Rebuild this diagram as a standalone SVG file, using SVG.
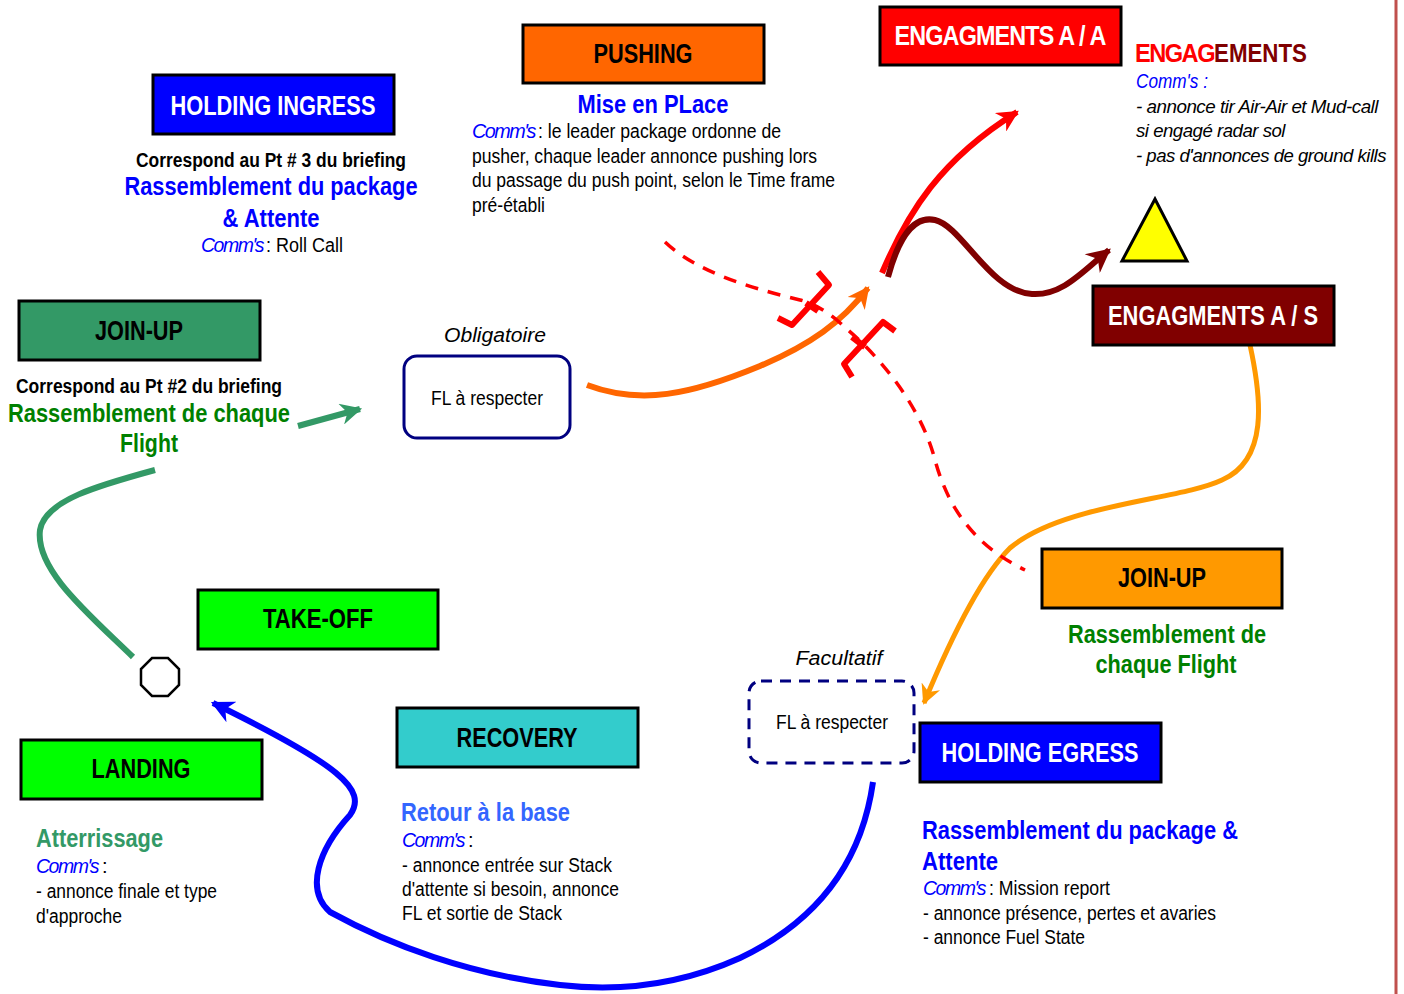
<svg xmlns="http://www.w3.org/2000/svg" width="1404" height="994" viewBox="0 0 1404 994">
<style>
text{font-family:"Liberation Sans",Arial,sans-serif;}
.box{stroke:#000;stroke-width:3;}
.bt{font-size:27px;font-weight:bold;text-anchor:middle;}
.w{fill:#fff;}
.k{fill:#000;}
.sub{font-size:25px;font-weight:bold;}
.b{font-size:20px;fill:#000;}
.cm{fill:#0000FF;font-style:italic;}
.cmw{font-size:20px;fill:#0000FF;font-style:italic;letter-spacing:-1.5px;}
.it{font-style:italic;}
.tight{font-size:19px;letter-spacing:-0.5px;}
.mid{text-anchor:middle;}
.con{fill:none;stroke-linecap:butt;}
</style>
<defs>
<marker id="aGreen" viewBox="0 0 10 10" refX="9" refY="5" markerWidth="4.2" markerHeight="3.6" orient="auto" markerUnits="strokeWidth"><path d="M0,0 L10,5 L0,10 L3,5 z" fill="#339966"/></marker>
<marker id="aOrange" viewBox="0 0 10 10" refX="9" refY="5" markerWidth="4.2" markerHeight="3.6" orient="auto" markerUnits="strokeWidth"><path d="M0,0 L10,5 L0,10 L3,5 z" fill="#FF6600"/></marker>
<marker id="aRed" viewBox="0 0 10 10" refX="9" refY="5" markerWidth="4.2" markerHeight="3.6" orient="auto" markerUnits="strokeWidth"><path d="M0,0 L10,5 L0,10 L3,5 z" fill="#FF0000"/></marker>
<marker id="aMaroon" viewBox="0 0 10 10" refX="9" refY="5" markerWidth="4.6" markerHeight="4" orient="auto" markerUnits="strokeWidth"><path d="M0,0 L10,5 L0,10 L3,5 z" fill="#800000"/></marker>
<marker id="aAmber" viewBox="0 0 10 10" refX="9" refY="5" markerWidth="4.6" markerHeight="4" orient="auto" markerUnits="strokeWidth"><path d="M0,0 L10,5 L0,10 L3,5 z" fill="#FF9900"/></marker>
<marker id="aBlue" viewBox="0 0 10 10" refX="9" refY="5" markerWidth="4.4" markerHeight="3.8" orient="auto" markerUnits="strokeWidth"><path d="M0,0 L10,5 L0,10 L3,5 z" fill="#0000FF"/></marker>
</defs>
<rect width="1404" height="994" fill="#fff"/>
<line x1="1396" y1="0" x2="1396" y2="994" stroke="#C0504D" stroke-width="3"/>

<g id="connectors">
<path class="con" d="M133,657 C90,615 35,570 40,530 C45,500 100,485 155,470" stroke="#339966" stroke-width="6"/>
<path class="con" d="M298,426 L360,409" stroke="#339966" stroke-width="6" marker-end="url(#aGreen)"/>
<path class="con" d="M587,385 C640,405 690,395 760,366 C810,345 842,322 868,288" stroke="#FF6600" stroke-width="6" marker-end="url(#aOrange)"/>
<path class="con" d="M882,273 C908,212 940,160 1017,112" stroke="#FF0000" stroke-width="6" marker-end="url(#aRed)"/>
<path class="con" d="M888,277 C898,240 912,215 935,220 C962,226 990,292 1032,294 C1062,296 1082,272 1109,250" stroke="#800000" stroke-width="6" marker-end="url(#aMaroon)"/>
<path class="con" d="M1250,345 C1262,400 1268,460 1222,480 C1180,500 1062,504 1010,548 C980,578 950,640 924,703" stroke="#FF9900" stroke-width="5" marker-end="url(#aAmber)"/>
<path class="con" d="M873,782 C862,860 820,920 740,958 C680,985 620,992 560,985 C470,975 390,945 330,912 C305,890 318,850 350,815 C368,790 340,765 213,703" stroke="#0000FF" stroke-width="6" marker-end="url(#aBlue)"/>
<path class="con" d="M665,242 C700,275 760,290 800,300 C820,305 835,318 848,330 C885,362 922,410 935,460 C950,515 980,548 1025,570" stroke="#FF0000" stroke-width="3.5" stroke-dasharray="13,10"/>
<g fill="none" stroke="#FF0000" stroke-width="6" stroke-linejoin="round" stroke-linecap="butt">
<polyline points="818,272 829,285 792,325 778,318"/>
<line x1="806" y1="303" x2="818" y2="311"/>
<polyline points="895,331 883,322 844,364 852,377"/>
<line x1="852" y1="337" x2="865" y2="347"/>
</g>
</g>

<g id="holding-ingress">
<rect class="box" x="153" y="75" width="241" height="59" fill="#0000FF"/>
<text class="bt w" x="273" y="115" textLength="205" lengthAdjust="spacingAndGlyphs">HOLDING INGRESS</text>
<text class="mid" x="271" y="167" font-size="19.5" font-weight="bold" textLength="270" lengthAdjust="spacingAndGlyphs">Correspond au Pt # 3 du briefing</text>
<text class="sub mid" x="271" y="195" fill="#0000FF" textLength="293" lengthAdjust="spacingAndGlyphs">Rassemblement du package</text>
<text class="sub mid" x="271" y="227" fill="#0000FF" textLength="97" lengthAdjust="spacingAndGlyphs">&amp; Attente</text>
<text class="cmw" x="201" y="252" textLength="62" lengthAdjust="spacingAndGlyphs">Comm's</text>
<text class="b" x="266" y="252" textLength="77" lengthAdjust="spacingAndGlyphs">: Roll Call</text>
</g>

<g id="pushing">
<rect class="box" x="523" y="25" width="241" height="58" fill="#FF6600"/>
<text class="bt k" x="643" y="63" textLength="99" lengthAdjust="spacingAndGlyphs">PUSHING</text>
<text class="sub mid" x="653" y="113" fill="#0000FF" textLength="151" lengthAdjust="spacingAndGlyphs">Mise en PLace</text>
<text class="cmw" x="472" y="138" textLength="63" lengthAdjust="spacingAndGlyphs">Comm's</text>
<text class="b" x="538" y="138" textLength="243" lengthAdjust="spacingAndGlyphs">: le leader package ordonne de</text>
<text class="b" x="472" y="163" textLength="345" lengthAdjust="spacingAndGlyphs">pusher, chaque leader annonce pushing lors</text>
<text class="b" x="472" y="187" textLength="363" lengthAdjust="spacingAndGlyphs">du passage du push point, selon le Time frame</text>
<text class="b" x="472" y="212" textLength="73" lengthAdjust="spacingAndGlyphs">pré-établi</text>
</g>

<g id="engagements-aa">
<rect class="box" x="880" y="7" width="241" height="58" fill="#FF0000"/>
<text class="bt w" x="1000" y="45" letter-spacing="-1" textLength="211" lengthAdjust="spacingAndGlyphs">ENGAGMENTS A / A</text>
</g>

<g id="engagements-text">
<text class="sub" x="1135" y="62" fill="#FF0000" font-size="24.5" letter-spacing="-1.6" textLength="79" lengthAdjust="spacingAndGlyphs">ENGAG</text>
<text class="sub" x="1214" y="62" fill="#800000" textLength="93" lengthAdjust="spacingAndGlyphs">EMENTS</text>
<text class="b cm" x="1136" y="88" textLength="72" lengthAdjust="spacingAndGlyphs">Comm's :</text>
<text class="b it tight" x="1136" y="113" textLength="242" lengthAdjust="spacingAndGlyphs">- annonce tir Air-Air et Mud-call</text>
<text class="b it tight" x="1136" y="137" textLength="149" lengthAdjust="spacingAndGlyphs">si engagé radar sol</text>
<text class="b it tight" x="1136" y="162" textLength="250" lengthAdjust="spacingAndGlyphs">- pas d'annonces de ground kills</text>
</g>

<g id="target">
<polygon points="1155,199 1122,261 1187,261" fill="#FFFF00" stroke="#000" stroke-width="3" stroke-linejoin="miter"/>
</g>

<g id="engagements-as">
<rect class="box" x="1093" y="286" width="241" height="59" fill="#800000"/>
<text class="bt w" x="1213" y="325" textLength="210" lengthAdjust="spacingAndGlyphs">ENGAGMENTS A / S</text>
</g>

<g id="join-up-1">
<rect class="box" x="19" y="301" width="241" height="59" fill="#339966"/>
<text class="bt k" x="139" y="340" textLength="88" lengthAdjust="spacingAndGlyphs">JOIN-UP</text>
<text class="mid" x="149" y="393" font-size="19.5" font-weight="bold" textLength="266" lengthAdjust="spacingAndGlyphs">Correspond au Pt #2 du briefing</text>
<text class="sub mid" x="149" y="422" fill="#008000" textLength="282" lengthAdjust="spacingAndGlyphs">Rassemblement de chaque</text>
<text class="sub mid" x="149" y="452" fill="#008000" textLength="58" lengthAdjust="spacingAndGlyphs">Flight</text>
</g>

<g id="fl-obligatoire">
<text class="b it mid" x="495" y="342" textLength="102" lengthAdjust="spacingAndGlyphs">Obligatoire</text>
<rect x="404" y="356" width="166" height="82" rx="13" fill="#fff" stroke="#000080" stroke-width="3"/>
<text class="b mid" x="487" y="405" font-size="19" textLength="112" lengthAdjust="spacingAndGlyphs">FL à respecter</text>
</g>

<g id="take-off">
<rect class="box" x="198" y="590" width="240" height="59" fill="#00FF00"/>
<text class="bt k" x="318" y="628" textLength="110" lengthAdjust="spacingAndGlyphs">TAKE-OFF</text>
</g>

<g id="base">
<polygon points="152,658 168,658 179,669 179,685 168,696 152,696 141,685 141,669" fill="#fff" stroke="#000" stroke-width="2.5"/>
</g>

<g id="landing">
<rect class="box" x="21" y="740" width="241" height="59" fill="#00FF00"/>
<text class="bt k" x="141" y="778" textLength="99" lengthAdjust="spacingAndGlyphs">LANDING</text>
<text class="sub" x="36" y="847" fill="#339966" textLength="127" lengthAdjust="spacingAndGlyphs">Atterrissage</text>
<text class="cmw" x="36" y="873" textLength="62" lengthAdjust="spacingAndGlyphs">Comm's</text>
<text class="b" x="102" y="873">:</text>
<text class="b" x="36" y="898" textLength="181" lengthAdjust="spacingAndGlyphs">- annonce finale et type</text>
<text class="b" x="36" y="923" textLength="86" lengthAdjust="spacingAndGlyphs">d'approche</text>
</g>

<g id="recovery">
<rect class="box" x="397" y="708" width="241" height="59" fill="#33CCCC"/>
<text class="bt k" x="517" y="747" textLength="121" lengthAdjust="spacingAndGlyphs">RECOVERY</text>
<text class="sub" x="401" y="821" fill="#3366FF" textLength="169" lengthAdjust="spacingAndGlyphs">Retour à la base</text>
<text class="cmw" x="402" y="847" textLength="62" lengthAdjust="spacingAndGlyphs">Comm's</text>
<text class="b" x="468" y="847">:</text>
<text class="b" x="402" y="872" textLength="210" lengthAdjust="spacingAndGlyphs">- annonce entrée sur Stack</text>
<text class="b" x="402" y="896" textLength="217" lengthAdjust="spacingAndGlyphs">d'attente si besoin, annonce</text>
<text class="b" x="402" y="920" textLength="160" lengthAdjust="spacingAndGlyphs">FL et sortie de Stack</text>
</g>

<g id="join-up-2">
<rect class="box" x="1042" y="549" width="240" height="59" fill="#FF9900"/>
<text class="bt k" x="1162" y="587" textLength="88" lengthAdjust="spacingAndGlyphs">JOIN-UP</text>
<text class="sub mid" x="1167" y="643" fill="#008000" textLength="198" lengthAdjust="spacingAndGlyphs">Rassemblement de</text>
<text class="sub mid" x="1166" y="673" fill="#008000" textLength="141" lengthAdjust="spacingAndGlyphs">chaque Flight</text>
</g>

<g id="fl-facultatif">
<text class="b it mid" x="839" y="665" textLength="87" lengthAdjust="spacingAndGlyphs">Facultatif</text>
<rect x="749" y="681" width="165" height="82" rx="12" fill="#fff" stroke="#000080" stroke-width="3" stroke-dasharray="11,8"/>
<text class="b mid" x="832" y="729" font-size="19" textLength="112" lengthAdjust="spacingAndGlyphs">FL à respecter</text>
</g>

<g id="holding-egress">
<rect class="box" x="920" y="723" width="241" height="59" fill="#0000FF"/>
<text class="bt w" x="1040" y="762" textLength="197" lengthAdjust="spacingAndGlyphs">HOLDING EGRESS</text>
<text class="sub" x="922" y="839" fill="#0000FF" textLength="316" lengthAdjust="spacingAndGlyphs">Rassemblement du package &amp;</text>
<text class="sub" x="922" y="870" fill="#0000FF" textLength="76" lengthAdjust="spacingAndGlyphs">Attente</text>
<text class="cmw" x="923" y="895" textLength="62" lengthAdjust="spacingAndGlyphs">Comm's</text>
<text class="b" x="989" y="895" textLength="121" lengthAdjust="spacingAndGlyphs">: Mission report</text>
<text class="b" x="923" y="920" textLength="293" lengthAdjust="spacingAndGlyphs">- annonce présence, pertes et avaries</text>
<text class="b" x="923" y="944" textLength="162" lengthAdjust="spacingAndGlyphs">- annonce Fuel State</text>
</g>
</svg>
